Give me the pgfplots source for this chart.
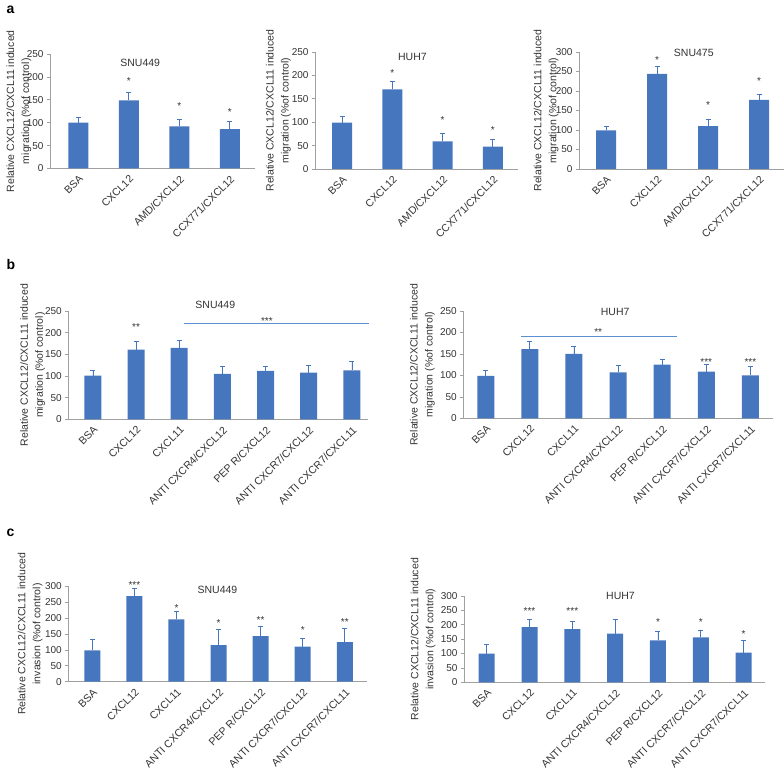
\documentclass[border=0pt]{standalone}
\usepackage{fontspec}
\setmainfont{Liberation Sans}
\usepackage{pgfplots}
\pgfplotsset{compat=1.18}
\usepackage{pgfplotstable}

\definecolor{barblue}{HTML}{4677BE}
\definecolor{sigblue}{HTML}{5B8FD0}
\definecolor{axgray}{HTML}{A0A0A0}
\definecolor{txt}{HTML}{333333}

% bar data: x, value, upper error
\pgfplotstableread{
x y e
0 100 11
1 149 17
2 92 16
3 86 17
}\aone
\pgfplotstableread{
x y e
0 99 13
1 170 18
2 59 17
3 48 16
}\atwo
\pgfplotstableread{
x y e
0 99 11
1 244 18
2 110 18
3 177 15
}\athree
\pgfplotstableread{
x y e
0 101 12
1 161 18
2 165 17
3 105 17
4 112 11
5 108 16
6 113 21
}\bone
\pgfplotstableread{
x y e
0 99 12
1 161 17
2 150 17
3 107 17
4 125 12
5 109 16
6 100 20
}\btwo
\pgfplotstableread{
x y e
0 98 36
1 268 23
2 195 26
3 115 49
4 143 31
5 110 25
6 124 44
}\cone
\pgfplotstableread{
x y e
0 100 33
1 192 25
2 185 27
3 169 49
4 146 31
5 156 26
6 103 44
}\ctwo

\pgfplotsset{
  panel/.style={
    scale only axis,
    axis lines=left,
    axis line style={draw=axgray, line width=0.6pt, -},
    ymin=0,
    clip=false,
    major x tick style={draw=none},
    major y tick style={draw=axgray, line width=0.6pt},
    tick align=outside,
    major tick length=3pt,
    /pgf/number format/assume math mode=true,
    yticklabel style={font=\fontsize{10}{12}\selectfont, text=txt},
    xticklabel style={rotate=45, anchor=north east, inner sep=2pt,
      font=\fontsize{10.5}{12}\selectfont, text=txt},
    ylabel style={font=\fontsize{10.5}{15}\selectfont, align=center, anchor=center, text=txt},
    title style={font=\fontsize{10.5}{12}\selectfont, text=txt, anchor=center, yshift=-6pt},
    every node near coord/.style={font=\fontsize{10}{12}\selectfont, text=txt,
      anchor=center, yshift=-2.2pt},
  },
  four/.style={xmin=-0.55, xmax=3.5, xtick={0,...,3},
    xticklabels={BSA, CXCL12, AMD/CXCL12, CCX771/CXCL12},
    ylabel={Relative CXCL12/CXCL11 induced\\migration (\%of control)}},
  seven/.style={xtick={0,...,6},
    xticklabel style={font=\fontsize{10.6}{12}\selectfont},
    xticklabels={BSA, CXCL12, CXCL11, ANTI CXCR4/CXCL12, PEP R/CXCL12,
      ANTI CXCR7/CXCL12, ANTI CXCR7/CXCL11}},
  bars/.style={ybar, bar width=#1, fill=barblue, draw=none,
    error bars/.cd, y dir=plus, y explicit,
    error bar style={draw=barblue, line width=0.8pt},
    error mark options={rotate=90, mark size=2.5pt, draw=barblue, line width=0.8pt}},
  stars/.style={draw=none, mark=none, nodes near coords, point meta=explicit symbolic},
  sig/.style={sigblue, line width=0.6pt, mark=none},
}

\begin{document}
\begin{tikzpicture}
\useasboundingbox (0pt,0pt) rectangle (784pt,771pt);

\node[anchor=base west, font=\bfseries\fontsize{14}{14}\selectfont] at (3pt,757pt) {a};
\node[anchor=base west, font=\bfseries\fontsize{14}{14}\selectfont] at (3pt,501pt) {b};
\node[anchor=base west, font=\bfseries\fontsize{14}{14}\selectfont] at (3pt,234pt) {c};

% ---- a: SNU449
\begin{axis}[panel, four, at={(50pt,602.5pt)}, anchor=south west,
  width=205pt, height=114.5pt, xmin=-0.56, ymax=250, ytick={0,50,...,250},
  title={SNU449}, title style={at={(axis description cs:0.44,0.92)}},
  ylabel style={at={(axis description cs:-0.152,0.5)}}]
\addplot[bars=20pt] table[x=x, y=y, y error=e] {\aone};
\addplot[stars] coordinates {(1,195) [*] (2,142) [*] (3,129) [*]};
\end{axis}

% ---- a: HUH7
\begin{axis}[panel, four, at={(315pt,602pt)}, anchor=south west,
  width=203pt, height=117pt, xmin=-0.54, ymax=250, ytick={0,50,...,250},
  title={HUH7}, title style={at={(axis description cs:0.48,0.96)}},
  ylabel style={at={(axis description cs:-0.18,0.5)}}]
\addplot[bars=20pt] table[x=x, y=y, y error=e] {\atwo};
\addplot[stars] coordinates {(1,209) [*] (2,110) [*] (3,88) [*]};
\end{axis}

% ---- a: SNU475
\begin{axis}[panel, four, at={(579pt,602pt)}, anchor=south west,
  width=205pt, height=117pt, xmin=-0.53, xmax=3.49, ymax=300, ytick={0,50,...,300},
  title={SNU475}, title style={at={(axis description cs:0.56,0.99)}},
  ylabel style={at={(axis description cs:-0.16,0.5)}}]
\addplot[bars=20pt] table[x=x, y=y, y error=e] {\athree};
\addplot[stars] coordinates {(1,285) [*] (2,170) [*] (3,230) [*]};
\end{axis}

% ---- b: SNU449
\begin{axis}[panel, seven, at={(68.3pt,351.7pt)}, anchor=south west,
  width=300pt, height=108.3pt, xmin=-0.57, xmax=6.38, ymax=250, ytick={0,50,...,250},
  ylabel={Relative CXCL12/CXCL11 induced\\migration (\%of control)},
  title={SNU449}, title style={at={(axis description cs:0.49,1.06)}},
  ylabel style={at={(axis description cs:-0.119,0.5)}}]
\addplot[bars=17pt] table[x=x, y=y, y error=e] {\bone};
\addplot[sig] coordinates {(2.12,221.5) (6.39,221.5)};
\addplot[stars] coordinates {(1,218) [**] (4.03,231.5) [***]};
\end{axis}

% ---- b: HUH7
\begin{axis}[panel, seven, at={(463.3pt,352.7pt)}, anchor=south west,
  width=310pt, height=107.3pt, xmin=-0.51, xmax=6.52, ymax=250, ytick={0,50,...,250},
  ylabel={Relative CXCL12/CXCL11 induced\\migration (\%of control)},
  title={HUH7}, title style={at={(axis description cs:0.49,0.99)}},
  ylabel style={at={(axis description cs:-0.132,0.5)}}]
\addplot[bars=17pt] table[x=x, y=y, y error=e] {\btwo};
\addplot[sig] coordinates {(0.80,192) (4.33,192)};
\addplot[stars] coordinates {(2.55,206) [**] (5,137) [***] (6,137) [***]};
\end{axis}

% ---- c: SNU449
\begin{axis}[panel, seven, at={(68.3pt,89.3pt)}, anchor=south west,
  width=298.4pt, height=95.7pt, xmin=-0.57, xmax=6.52, ymax=300, ytick={0,50,...,300},
  ylabel={Relative CXCL12/CXCL11 induced\\invasion (\%of control)},
  title={SNU449}, title style={at={(axis description cs:0.5,0.96)}},
  ylabel style={at={(axis description cs:-0.128,0.5)}}]
\addplot[bars=16pt] table[x=x, y=y, y error=e] {\cone};
\addplot[stars] coordinates {(1,311) [***] (2,237) [*] (3,190) [*] (4,201) [**] (5,169) [*] (6,193) [**]};
\end{axis}

% ---- c: HUH7
\begin{axis}[panel, seven, at={(464pt,88.7pt)}, anchor=south west,
  width=301pt, height=86.3pt, xmin=-0.53, xmax=6.5, ymax=300, ytick={0,50,...,300},
  ylabel={Relative CXCL12/CXCL11 induced\\invasion (\%of control)},
  title={HUH7}, title style={at={(axis description cs:0.52,1.0)}},
  ylabel style={at={(axis description cs:-0.136,0.5)}}]
\addplot[bars=16pt] table[x=x, y=y, y error=e] {\ctwo};
\addplot[stars] coordinates {(1,255) [***] (2,255) [***] (4,217) [*] (5,217) [*] (6,176) [*]};
\end{axis}
\end{tikzpicture}
\end{document}
